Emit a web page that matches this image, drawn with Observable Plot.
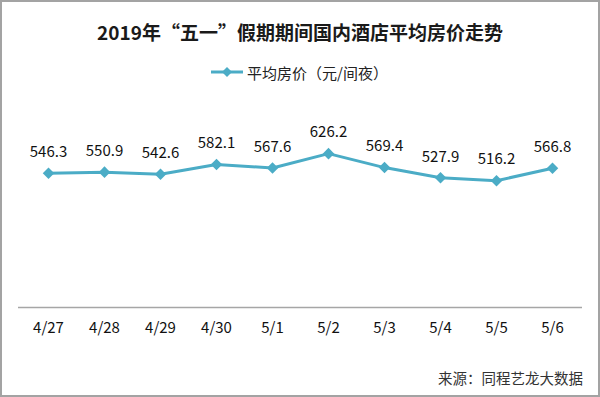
<!DOCTYPE html>
<html>
<head>
<meta charset="utf-8">
<script src="https://cdn.jsdelivr.net/npm/d3@7"></script>
<script src="https://cdn.jsdelivr.net/npm/@observablehq/plot@0.6"></script>
<style>
  html, body { margin: 0; padding: 0; background: #fff; }
  #wrap { position: relative; width: 600px; height: 397px; overflow: hidden; background: #fff;
          font-family: "Noto Sans CJK SC", "Noto Sans", sans-serif; }
  #frame { position: absolute; left: 0; top: 0; width: 600px; height: 397px; box-sizing: border-box;
           border: 2px solid #a3a3a3; pointer-events: none; }
  #chart { position: absolute; left: 0; top: 0; }
  #title { position: absolute; left: 0; width: 600px; top: 18px; text-align: center;
           font-size: 19px; font-weight: bold; color: #1a1a1a; line-height: 28px; }
  #legend { position: absolute; left: 210px; top: 61px; height: 22px; display: flex; align-items: center;
            font-size: 15px; color: #222; }
  #legend svg { margin-right: 3px; }
  #caption { position: absolute; right: 17px; top: 367px; font-size: 14.5px; color: #333; line-height: 22px; }
</style>
</head>
<body>
<div id="wrap">
  <div id="chart"></div>
  <div id="title"></div>
  <div id="legend"></div>
  <div id="caption"></div>
  <div id="frame"></div>
</div>
<script>
const titleText = "2019年“五一”假期期间国内酒店平均房价走势";
const seriesName = "平均房价（元/间夜）";
const sourceText = "来源：同程艺龙大数据";
const dates = ["4/27", "4/28", "4/29", "4/30", "5/1", "5/2", "5/3", "5/4", "5/5", "5/6"];
const prices = [546.3, 550.9, 542.6, 582.1, 567.6, 626.2, 569.4, 527.9, 516.2, 566.8];
const lineColor = "#4BACC6";

const data = dates.map((d, i) => ({date: d, value: prices[i]}));

document.getElementById("title").textContent = titleText;
document.getElementById("caption").textContent = sourceText;

// legend swatch
const leg = document.getElementById("legend");
const sw = d3.create("svg").attr("width", 34).attr("height", 14);
sw.append("line").attr("x1", 1).attr("x2", 33).attr("y1", 7).attr("y2", 7)
  .attr("stroke", lineColor).attr("stroke-width", 3);
sw.append("path").attr("d", "M17,2L22,7L17,12L12,7Z").attr("fill", lineColor);
leg.appendChild(sw.node());
const lt = document.createElement("span");
lt.textContent = seriesName;
leg.appendChild(lt);

const chart = Plot.plot({
  width: 600,
  height: 397,
  marginLeft: 18,
  marginRight: 18,
  marginTop: 135,
  marginBottom: 90,
  style: {fontFamily: "'Noto Sans CJK SC', 'Noto Sans', sans-serif", background: "transparent"},
  x: {type: "point", domain: dates, padding: 0.5, label: null},
  y: {domain: [0, 700], axis: null},
  marks: [
    Plot.ruleY([0], {stroke: "#a6a6a6", strokeWidth: 1.3}),
    Plot.axisX({tickSize: 0, tickPadding: 15, fontSize: 15, color: "#111", label: null}),
    Plot.line(data, {x: "date", y: "value", stroke: lineColor, strokeWidth: 3}),
    Plot.dot(data, {x: "date", y: "value", symbol: "diamond2", r: 5.2, fill: lineColor}),
    Plot.text(data, {x: "date", y: "value", text: d => d.value.toFixed(1), dy: -21, fontSize: 15, fill: "#111"})
  ]
});
document.getElementById("chart").appendChild(chart);
</script>
</body>
</html>
